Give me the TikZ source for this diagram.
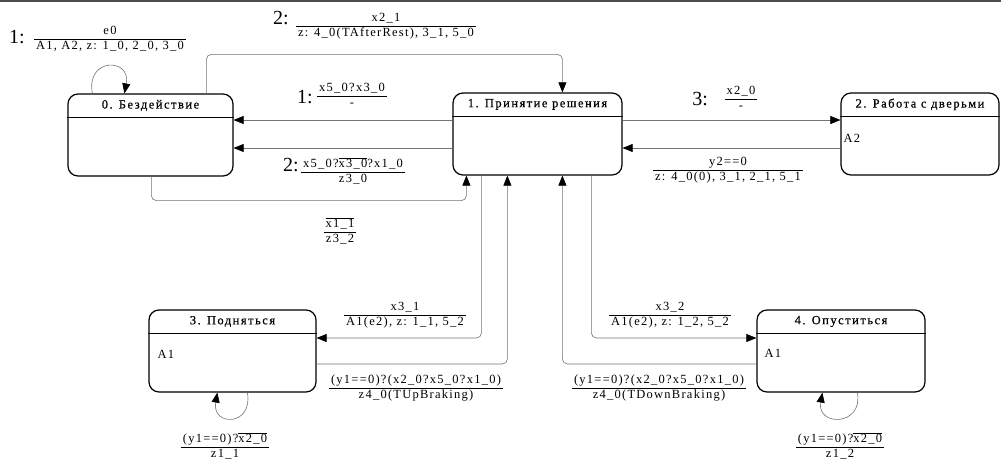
\documentclass[tikz,border=0pt]{standalone}
\usepackage{fontspec}
\setmainfont{Liberation Serif}[LetterSpace=10]
\newfontfamily\prefont{Liberation Serif}
\newfontfamily\titlefont{Liberation Serif}[LetterSpace=12,FakeBold=0.6]
\usetikzlibrary{arrows.meta}
\newcommand\frc[2]{\begin{tabular}{@{\hspace{2pt}}c@{\hspace{2pt}}}#1\\\hline #2\end{tabular}}
\newcommand\ovl[1]{$\overline{\mbox{#1}}$}
\begin{document}
\begin{tikzpicture}[x=1pt,y=-1pt,
  stbox/.style={draw, line width=1.2pt, rounded corners=10pt, minimum width=#1, minimum height=82pt, inner sep=0pt},
  hdr/.style={line width=1.2pt},
  conn/.style={draw=black!55, line width=0.6pt, rounded corners=5pt},
  tip/.style={-{Triangle[length=10pt,width=8pt,color=black]}},
  lbl/.style={font=\fontsize{12.5}{14}\selectfont, inner sep=0pt},
  pre/.style={font=\prefont\fontsize{20}{20}\selectfont, inner sep=0pt, anchor=base east},
  ttl/.style={font=\titlefont\fontsize{12.5}{14}\selectfont, inner sep=0pt},
  act/.style={font=\fontsize{12.5}{14}\selectfont, inner sep=0pt, anchor=base west}]
\useasboundingbox (0,0) rectangle (1001,464);
\draw[line width=1.5pt, black!70] (0,1) -- (1001,1);

% helper levels
\coordinate (h120) at (0,120);
\coordinate (h148) at (0,148);
\coordinate (h338) at (0,338);
\coordinate (h364) at (0,364);

% states
\node[stbox=165pt] (s0) at (150.5,135) {};
\node[ttl] (t0) at ([yshift=-12pt]s0.north) {0. Бездействие};
\draw[hdr] ([yshift=-24pt]s0.north west) -- ([yshift=-24pt]s0.north east);

\node[stbox=169pt] (s1) at (537.5,134) {};
\node[ttl] (t1) at ([yshift=-12pt]s1.north) {1. Принятие решения};
\draw[hdr] ([yshift=-24pt]s1.north west) -- ([yshift=-24pt]s1.north east);

\node[stbox=158pt] (s2) at (920,134) {};
\node[ttl] (t2) at ([yshift=-12pt]s2.north) {2. Работа с дверьми};
\draw[hdr] ([yshift=-24pt]s2.north west) -- ([yshift=-24pt]s2.north east);
\node[act] (a2) at ([xshift=3pt,yshift=-50pt]s2.north west) {A2};

\node[stbox=167pt] (s3) at (232.5,351) {};
\node[ttl] (t3) at ([yshift=-12pt]s3.north) {3. Подняться};
\draw[hdr] ([yshift=-24pt]s3.north west) -- ([yshift=-24pt]s3.north east);
\node[act] (a3) at ([xshift=9pt,yshift=-49pt]s3.north west) {A1};

\node[stbox=168pt] (s4) at (841,351) {};
\node[ttl] (t4) at ([yshift=-12pt]s4.north) {4. Опуститься};
\draw[hdr] ([yshift=-24pt]s4.north west) -- ([yshift=-24pt]s4.north east);
\node[act] (a4) at ([xshift=8pt,yshift=-48pt]s4.north west) {A1};

% connectors
\draw[conn,tip] ([xshift=25pt]s0.north west) .. controls +(-7,-36) and +(7,-36) .. ([xshift=57pt]s0.north west);
\draw[conn,tip] ([xshift=139pt]s0.north west) -- ++(0,-39) -| ([xshift=110pt]s1.north west);
\draw[conn,tip] (s1.west |- h120) -- (s0.east |- h120);
\draw[conn,tip] (s1.west |- h148) -- (s0.east |- h148);
\draw[conn,tip] ([xshift=84pt]s0.south west) -- ++(0,24) -| ([xshift=14pt]s1.south west);
\draw[conn,tip] (s1.east |- h120) -- (s2.west |- h120);
\draw[conn,tip] (s2.west |- h148) -- (s1.east |- h148);
\draw[conn,tip] ([xshift=29pt]s1.south west) |- (s3.east |- h338);
\draw[conn,tip] (s3.east |- h364) -| ([xshift=55pt]s1.south west);
\draw[conn,tip] ([xshift=139pt]s1.south west) |- (s4.west |- h338);
\draw[conn,tip] (s4.west |- h364) -| ([xshift=110pt]s1.south west);
\draw[conn,tip] ([xshift=99pt]s3.south west) .. controls +(6,34) and +(-6,34) .. ([xshift=69pt]s3.south west);
\draw[conn,tip] ([xshift=101pt]s4.south west) .. controls +(6,34) and +(-6,34) .. ([xshift=66pt]s4.south west);

% labels
\node[lbl] (f1) at (110,39) {\frc{e0}{A1, A2, z: 1\_0, 2\_0, 3\_0}};
\node[pre] (p1) at (25,43) {1:};
\node[lbl] (f2) at (386,26) {\frc{x2\_1}{z: 4\_0(TAfterRest), 3\_1, 5\_0}};
\node[pre] (p2) at (289,24) {2:};
\node[lbl] (f3) at (352,96) {\frc{x5\_0?x3\_0}{-}};
\node[pre] (p3) at (313,103) {1:};
\node[lbl] (f4) at (353,172) {\frc{x5\_0?\ovl{x3\_0}?x1\_0}{z3\_0}};
\node[pre] (p4) at (299,171) {2:};
\node[lbl] (f5) at (340,232) {\frc{\ovl{x1\_1}}{z3\_2}};
\node[lbl] (f6) at (741,99) {\frc{x2\_0}{-}};
\node[pre] (p6) at (708,105) {3:};
\node[lbl] (f7) at (728,170) {\frc{y2==0}{z: 4\_0(0), 3\_1, 2\_1, 5\_1}};
\node[lbl] (f8) at (405,315) {\frc{x3\_1}{A1(e2), z: 1\_1, 5\_2}};
\node[lbl] (f9) at (416,388) {\frc{(y1==0)?(x2\_0?x5\_0?x1\_0)}{z4\_0(TUpBraking)}};
\node[lbl] (f10) at (670,315) {\frc{x3\_2}{A1(e2), z: 1\_2, 5\_2}};
\node[lbl] (f11) at (659,388) {\frc{(y1==0)?(x2\_0?x5\_0?x1\_0)}{z4\_0(TDownBraking)}};
\node[lbl] (f12) at (225,447) {\frc{(y1==0)?\ovl{x2\_0}}{z1\_1}};
\node[lbl] (f13) at (840,447) {\frc{(y1==0)?\ovl{x2\_0}}{z1\_2}};
\end{tikzpicture}
\end{document}
